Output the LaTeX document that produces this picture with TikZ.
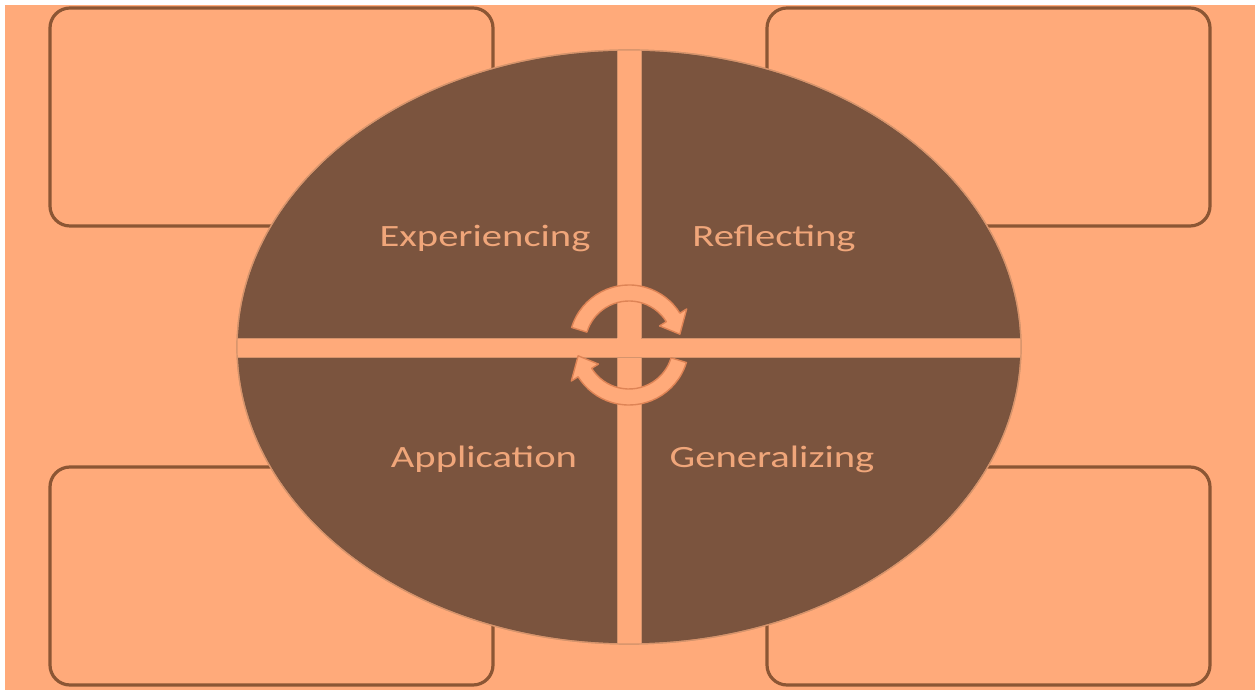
\documentclass[tikz,border=0pt]{standalone}
\usepackage{fontspec}
\setsansfont{Carlito}
\usepackage{tikz}
\usetikzlibrary{positioning, calc}
\definecolor{cyPeach}{RGB}{255,170,122}
\definecolor{cyBrown}{RGB}{123,84,62}
\definecolor{cyFrame}{RGB}{140,86,52}
\definecolor{cyEdge}{RGB}{214,148,108}
\definecolor{cyText}{RGB}{240,166,122}
\definecolor{cyArrow}{RGB}{222,132,86}

\begin{document}
\begin{tikzpicture}[
    x=1pt, y=1pt,
    frame/.style={draw=cyFrame, line width=3.2pt, rounded corners=20pt},
    quad/.style={fill=cyBrown, draw=cyEdge, line width=1.2pt},
    band/.style={fill=cyPeach, draw=cyEdge, line width=0.8pt},
    cyc/.style={fill=cyPeach, draw=cyArrow, line width=1.4pt, line join=round},
    lbl/.style={font=\sffamily\fontsize{31}{31}\selectfont, text=cyText,
                anchor=base, inner sep=0pt}
]
\useasboundingbox (0,0) rectangle (1255,690);
% Background
\fill[white] (0,0) rectangle (1255,690);
\fill[cyPeach] (5,0) rectangle (1255,685);

% Corner boxes
\foreach \x/\y in {50/464, 767/464, 50/5, 767/5} {
   \draw[frame] (\x,\y) rectangle ++(443,218);
}

% Cycle ellipse
\draw[quad] (629,343) ellipse [x radius=392, y radius=297];
\begin{scope}
   \clip (629,343) ellipse [x radius=392, y radius=297];
   \draw[band] (617,-10) rectangle (641,700);
   \draw[band] (-10,333) rectangle (1265,352);
   \fill[cyPeach] (617.4,333.4) rectangle (640.6,351.6);
\end{scope}
\draw[cyEdge, line width=1.2pt] (629,343) ellipse [x radius=392, y radius=297];

% Stage labels
\node[lbl] (exp)  at (485,443) {\scalebox{1.31}[1]{Experiencing}};
\node[lbl] (refl) at (774,443) {\scalebox{1.31}[1]{Reflecting}};
\node[lbl] (appl) at (484,222) {\scalebox{1.31}[1]{Application}};
\node[lbl] (gen)  at (772,222) {\scalebox{1.31}[1]{Generalizing}};

% Circular arrows
\begin{scope}[shift={(629,345)}]
   \draw[cyc] (163:60) arc [start angle=163, end angle=32, radius=60]
        -- (32:68) -- (12:52) -- (32:36) -- (32:44)
        arc [start angle=32, end angle=163, radius=44] -- cycle;
   \draw[cyc] (-17:60) arc [start angle=-17, end angle=-148, radius=60]
        -- (-148:68) -- (-168:52) -- (-148:36) -- (-148:44)
        arc [start angle=-148, end angle=-17, radius=44] -- cycle;
\end{scope}
\end{tikzpicture}
\end{document}
